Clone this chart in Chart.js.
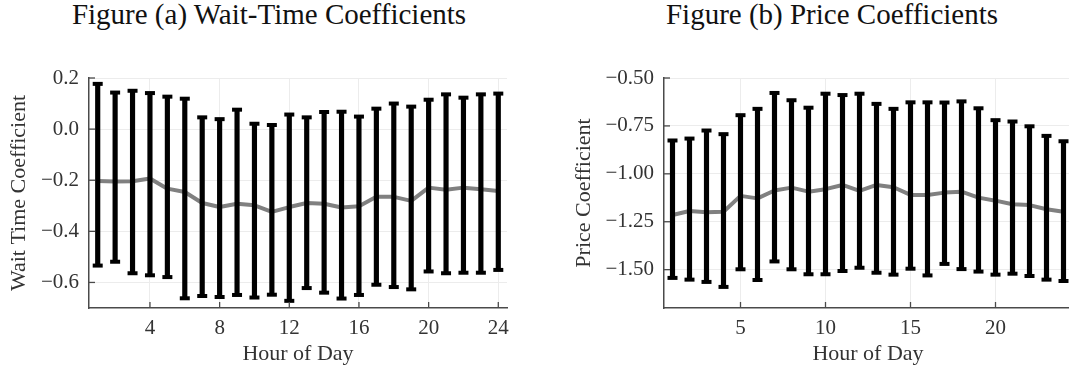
<!DOCTYPE html>
<html>
<head>
<meta charset="utf-8">
<script src="https://cdn.jsdelivr.net/npm/chart.js@4.4.0/dist/chart.umd.min.js"></script>
<style>
    html, body { margin: 0; padding: 0; background: #fff; width: 1069px; height: 369px; overflow: hidden; }
    .title { position: absolute; top: 0px; font-family: 'Liberation Serif', serif; font-size: 29px; line-height: 29px; color: #111; white-space: nowrap; transform: translateX(-50%); }
    .box { position: absolute; top: 0; }
</style>
</head>
<body>
<div class="title" style="left:269px">Figure (a) Wait-Time Coefficients</div>
<div class="title" style="left:832px">Figure (b) Price Coefficients</div>
<div class="box" style="left:0px"><canvas id="chartA" width="534" height="369"></canvas></div>
<div class="box" style="left:560px"><canvas id="chartB" width="540" height="369"></canvas></div>
<script>
// Data
const hours = [1, 2, 3, 4, 5, 6, 7, 8, 9, 10, 11, 12, 13, 14, 15, 16, 17, 18, 19, 20, 21, 22, 23, 24];

const waitEst = [-0.203, -0.205, -0.204, -0.193, -0.233, -0.246, -0.289, -0.305, -0.292, -0.298, -0.324, -0.305,
                 -0.289, -0.292, -0.307, -0.302, -0.265, -0.265, -0.281, -0.229, -0.237, -0.229, -0.235, -0.242];
const waitHi = [0.177, 0.143, 0.150, 0.141, 0.127, 0.119, 0.046, 0.039, 0.076, 0.021, 0.016, 0.057,
                0.046, 0.067, 0.068, 0.049, 0.080, 0.100, 0.088, 0.115, 0.136, 0.123, 0.136, 0.139];
const waitLo = [-0.534, -0.519, -0.564, -0.572, -0.579, -0.662, -0.653, -0.657, -0.649, -0.659, -0.648, -0.672,
                -0.622, -0.640, -0.663, -0.649, -0.609, -0.618, -0.627, -0.557, -0.564, -0.562, -0.562, -0.551];

const priceEst = [-1.215, -1.194, -1.200, -1.198, -1.115, -1.128, -1.087, -1.072, -1.093, -1.080, -1.058, -1.089,
                  -1.058, -1.070, -1.110, -1.110, -1.098, -1.093, -1.124, -1.140, -1.159, -1.163, -1.185, -1.198];
const priceHi = [-0.826, -0.816, -0.774, -0.793, -0.694, -0.661, -0.578, -0.616, -0.655, -0.582, -0.589, -0.582,
                 -0.635, -0.661, -0.627, -0.627, -0.628, -0.622, -0.658, -0.720, -0.727, -0.752, -0.802, -0.830];
const priceLo = [-1.543, -1.552, -1.564, -1.590, -1.498, -1.554, -1.457, -1.498, -1.524, -1.524, -1.507, -1.490,
                 -1.516, -1.526, -1.495, -1.530, -1.470, -1.497, -1.510, -1.526, -1.521, -1.533, -1.552, -1.559];

// Ticks
const waitXTicks = [4, 8, 12, 16, 20, 24];
const waitYTicks = [-0.6, -0.4, -0.2, 0.0, 0.2];
const waitYLabels = ['\u22120.6', '\u22120.4', '\u22120.2', '0.0', '0.2'];
const priceXTicks = [5, 10, 15, 20];
const priceYTicks = [-1.5, -1.25, -1.0, -0.75, -0.5];
const priceYLabels = ['\u22121.50', '\u22121.25', '\u22121.00', '\u22120.75', '\u22120.50'];

const axisColor = '#4a4a4a';
const gridColor = '#ececec';
const textColor = '#333';
const serif = "'Liberation Serif', 'Times New Roman', serif";

// Small inward tick marks on both axes
const innerTicks = {
    id: 'innerTicks',
    afterDraw(chart) {
        const { ctx, chartArea, scales: { x, y } } = chart;
        ctx.save();
        ctx.strokeStyle = axisColor;
        ctx.lineWidth = 1.3;
        x.ticks.forEach(t => {
            const px = x.getPixelForValue(t.value);
            ctx.beginPath();
            ctx.moveTo(px, chartArea.bottom);
            ctx.lineTo(px, chartArea.bottom - 6);
            ctx.stroke();
        });
        y.ticks.forEach(t => {
            const py = y.getPixelForValue(t.value);
            ctx.beginPath();
            ctx.moveTo(chartArea.left, py);
            ctx.lineTo(chartArea.left + 6, py);
            ctx.stroke();
        });
        ctx.restore();
    }
};

const makeChart = (id, cfg) => {
    const ctx = document.getElementById(id).getContext('2d');
    const pts = arr => hours.map((h, i) => ({ x: h, y: arr[i] }));
    const capStyle = {
        type: 'line', showLine: false, pointStyle: 'line', pointRadius: 5,
        pointBorderWidth: 4, pointBorderColor: '#000', borderColor: '#000', order: 0
    };

    return new Chart(ctx, {
        type: 'line',
        data: {
            datasets: [
                {
                    type: 'line',
                    data: pts(cfg.est),
                    borderColor: '#808080',
                    borderWidth: 4,
                    pointRadius: 0,
                    tension: 0,
                    borderJoinStyle: 'round',
                    order: 3
                },
                {
                    type: 'bar',
                    data: hours.map((h, i) => ({ x: h, y: [cfg.lo[i], cfg.hi[i]] })),
                    backgroundColor: '#000',
                    borderWidth: 0,
                    barThickness: 4.5,
                    order: 2
                },
                { ...capStyle, data: pts(cfg.hi) },
                { ...capStyle, data: pts(cfg.lo) }
            ]
        },
        options: {
            responsive: false,
            animation: false,
            events: [],
            layout: { padding: { left: 0, top: 78, right: cfg.padRight, bottom: 0 } },
            plugins: { legend: { display: false }, tooltip: { enabled: false } },
            scales: {
                x: {
                    type: 'linear',
                    min: 0.5,
                    max: 24.5,
                    offset: false,
                    afterBuildTicks: s => { s.ticks = cfg.xTicks.map(v => ({ value: v })); },
                    afterFit: s => { s.height = 61; },
                    grid: { color: gridColor, lineWidth: 1, drawTicks: false, offset: false },
                    border: { color: axisColor, width: 1.5 },
                    ticks: { padding: 8, color: textColor, font: { family: serif, size: 21 } },
                    title: {
                        display: true, text: 'Hour of Day', color: textColor,
                        font: { family: serif, size: 22 }, padding: { top: 0, bottom: 2 }
                    }
                },
                y: {
                    min: cfg.yMin,
                    max: cfg.yMax,
                    afterBuildTicks: s => { s.ticks = cfg.yTicks.map(v => ({ value: v })); },
                    afterFit: s => { s.width = cfg.yWidth; },
                    grid: { color: gridColor, lineWidth: 1, drawTicks: false },
                    border: { color: axisColor, width: 1.5 },
                    ticks: {
                        padding: 10, color: textColor, font: { family: serif, size: 21 },
                        callback: v => cfg.yLabels[cfg.yTicks.findIndex(t => Math.abs(t - v) < 1e-9)]
                    },
                    title: {
                        display: true, text: cfg.yTitle, color: textColor,
                        font: { family: serif, size: 22 }, padding: { top: cfg.yTitlePad, bottom: 0 }
                    }
                }
            }
        },
        plugins: [innerTicks]
    });
};

makeChart('chartA', {
    est: waitEst, hi: waitHi, lo: waitLo,
    xTicks: waitXTicks, yTicks: waitYTicks, yLabels: waitYLabels,
    yMin: -0.7, yMax: 0.2, yWidth: 89, padRight: 27,
    yTitle: 'Wait Time Coefficient', yTitlePad: 6
});

makeChart('chartB', {
    est: priceEst, hi: priceHi, lo: priceLo,
    xTicks: priceXTicks, yTicks: priceYTicks, yLabels: priceYLabels,
    yMin: -1.7, yMax: -0.5, yWidth: 104, padRight: 28,
    yTitle: 'Price Coefficient', yTitlePad: 11
});
</script>
</body>
</html>
